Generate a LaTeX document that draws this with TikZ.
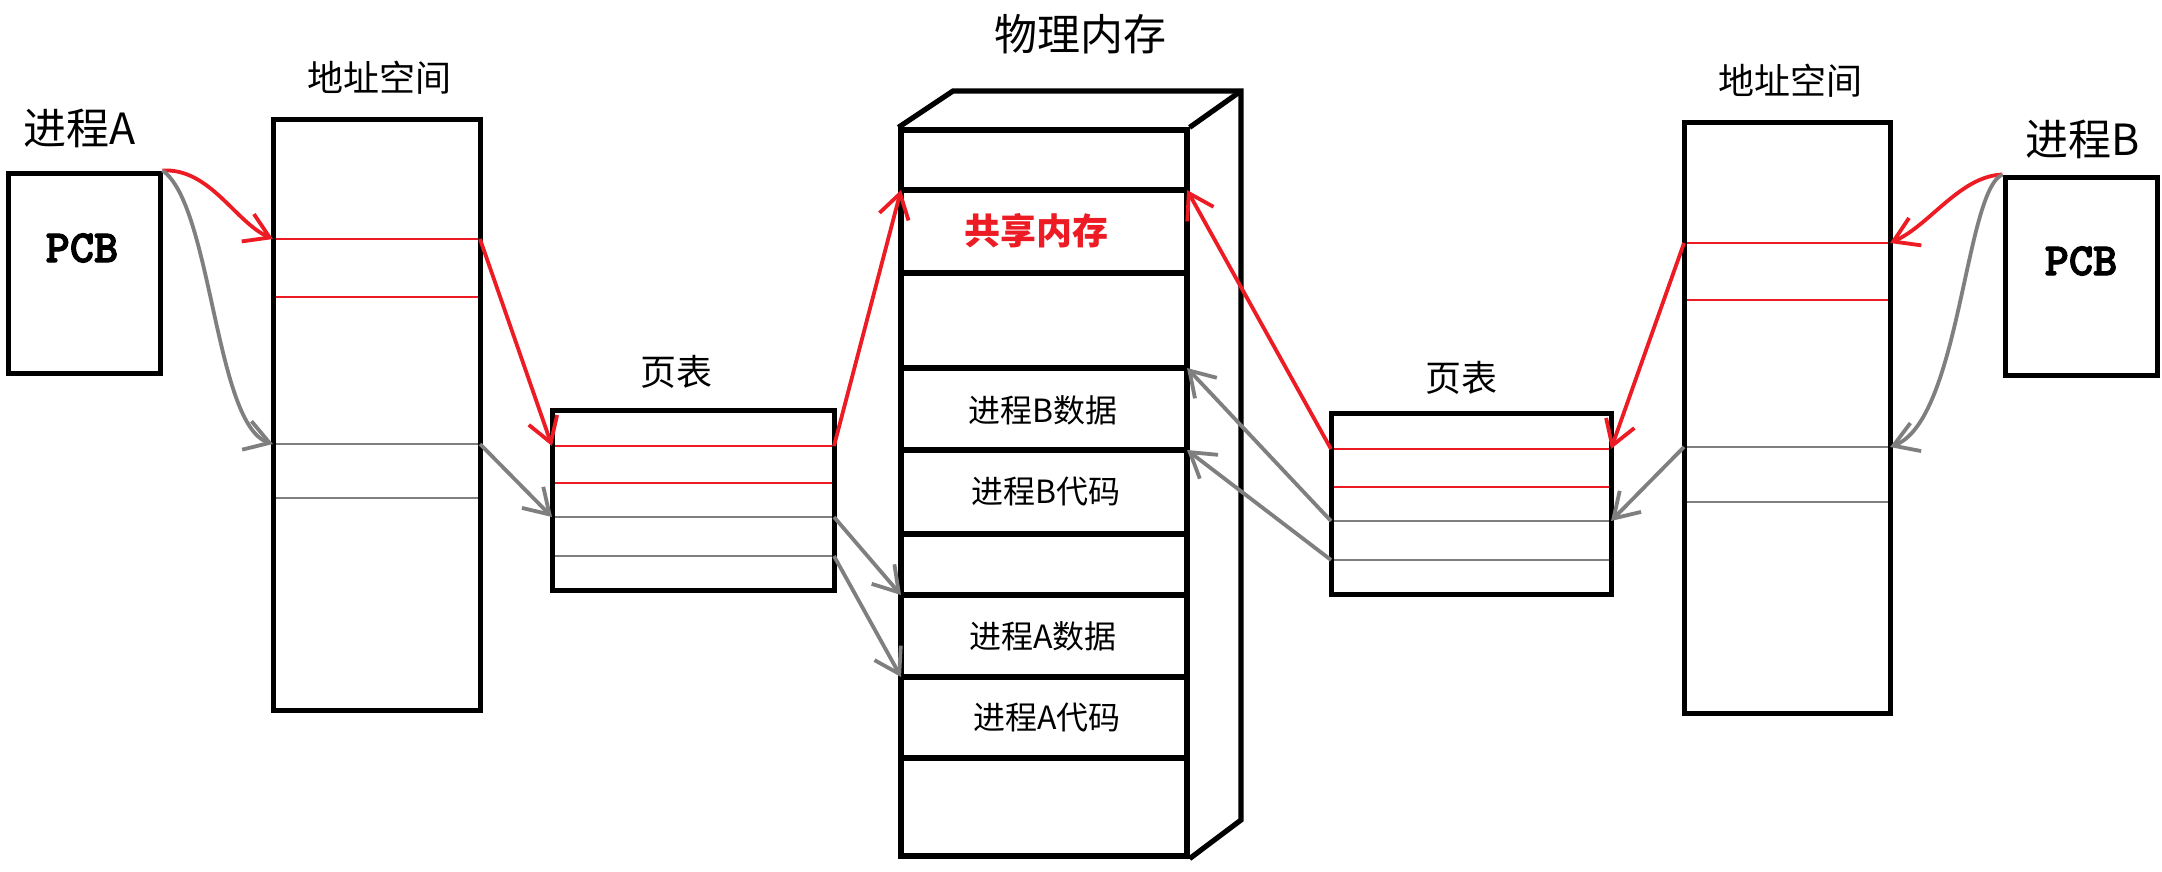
\documentclass[tikz,border=0pt]{standalone}
\usepackage{fontspec}
\setmainfont{Noto Sans CJK SC}
\newfontfamily\pcbfont{lmmonolt10-bold}[Extension=.otf, FakeBold=2.5]
\usetikzlibrary{arrows.meta}

\definecolor{pred}{RGB}{237,28,36}
\definecolor{pgray}{RGB}{127,127,127}

\tikzset{
  frame/.style={draw=black, line width=2.5pt, inner sep=0pt},
  memline/.style={draw=black, line width=2.6pt},
  row/.style={line width=1.1pt},
  link/.style={line width=1.9pt, -{Straight Barb[length=12pt,width=15pt]}},
  biglabel/.style={font=\fontsize{21.5}{24}\selectfont},
  midlabel/.style={font=\fontsize{18}{20}\selectfont},
  celltext/.style={font=\fontsize{16}{18}\selectfont},
  pcbtext/.style={font=\pcbfont\fontsize{23}{24}\selectfont}
}

\begin{document}
\begin{tikzpicture}[x=0.5pt,y=-0.5pt]
  \fill[white] (0,0) rectangle (2162,872);
  \useasboundingbox (0,0) rectangle (2162,872);

  % process A
  \node[frame, minimum width=76pt, minimum height=100pt] (pcbA) at (84,273) {};
  \node[pcbtext] (pcbAtext) at (82,248) {PCB};
  \node[biglabel] (procA) at (80,128) {进程A};

  % address space A
  \foreach \y/\c [count=\i] in {239/pred,297/pred,444/pgray,498/pgray}
    \draw[row,\c] (273,\y) coordinate (asA-w\i) -- (480,\y) coordinate (asA-e\i);
  \node[frame, minimum width=103.5pt, minimum height=295pt] (asA) at (376.5,415) {};
  \node[midlabel] (asAlabel) at (379,78) {地址空间};

  % page table A
  \foreach \y/\c [count=\i] in {446/pred,483/pred,517/pgray,556/pgray}
    \draw[row,\c] (552,\y) coordinate (ptA-w\i) -- (834,\y) coordinate (ptA-e\i);
  \node[frame, minimum width=141pt, minimum height=90pt] (ptA) at (693,500) {};
  \node[midlabel] (ptAlabel) at (676,372) {页表};

  % physical memory
  \node[frame, line width=2.6pt, minimum width=143pt, minimum height=363pt] (mem) at (1044,493) {};
  \draw[memline] (mem.north west) -- (953,91) -- (1241,91) -- (1241,820) -- (mem.south east);
  \draw[memline] (mem.north east) -- (1241,91);
  \foreach \y [count=\i] in {190,273,368,450,534,595,677,758}
    \draw[memline] (901,\y) coordinate (mem-w\i) -- (1187,\y) coordinate (mem-e\i);
  \node[biglabel] (memlabel) at (1080,34) {物理内存};
  \node[midlabel, text=pred, font=\bfseries\fontsize{18}{20}\selectfont] (shared) at (1036,231) {共享内存};
  \node[celltext] (bData) at (1043,410) {进程B数据};
  \node[celltext] (bCode) at (1046,492) {进程B代码};
  \node[celltext] (aData) at (1043,636) {进程A数据};
  \node[celltext] (aCode) at (1047,718) {进程A代码};

  % page table B
  \foreach \y/\c [count=\i] in {449/pred,487/pred,521/pgray,560/pgray}
    \draw[row,\c] (1331,\y) coordinate (ptB-w\i) -- (1611,\y) coordinate (ptB-e\i);
  \node[frame, minimum width=140pt, minimum height=90.5pt] (ptB) at (1471,503.5) {};
  \node[midlabel] (ptBlabel) at (1461,378) {页表};

  % address space B
  \foreach \y/\c [count=\i] in {243/pred,300/pred,447/pgray,502/pgray}
    \draw[row,\c] (1684,\y) coordinate (asB-w\i) -- (1890,\y) coordinate (asB-e\i);
  \node[frame, minimum width=103pt, minimum height=295pt] (asB) at (1787,418) {};
  \node[midlabel] (asBlabel) at (1790,81) {地址空间};

  % process B
  \node[frame, minimum width=76pt, minimum height=99pt] (pcbB) at (2081,276) {};
  \node[pcbtext] (pcbBtext) at (2081,261) {PCB};
  \node[biglabel] (procB) at (2083,139) {进程B};

  % mappings of A
  \draw[link,pred] (pcbA.north east) .. controls (210,168) and (235,222) .. (asA-w1);
  \draw[link,pgray] (pcbA.north east) .. controls (212,205) and (215,425) .. (asA-w3);
  \draw[link,pred] (asA-e1) -- (ptA-w1);
  \draw[link,pgray] (asA-e3) -- (ptA-w3);
  \draw[link,pred] (ptA-e1) -- (mem-w1);
  \draw[link,pgray] (ptA-e3) -- (mem-w6);
  \draw[link,pgray] (ptA-e4) -- (mem-w7);

  % mappings of B
  \draw[link,pred] (pcbB.north west) .. controls (1960,176) and (1930,225) .. (asB-e1);
  \draw[link,pgray] (pcbB.north west) .. controls (1965,190) and (1960,420) .. (asB-e3);
  \draw[link,pred] (asB-w1) -- (ptB-e1);
  \draw[link,pgray] (asB-w3) -- (ptB-e3);
  \draw[link,pred] (ptB-w1) -- (mem-e1);
  \draw[link,pgray] (ptB-w3) -- (mem-e3);
  \draw[link,pgray] (ptB-w4) -- (mem-e4);
\end{tikzpicture}
\end{document}
